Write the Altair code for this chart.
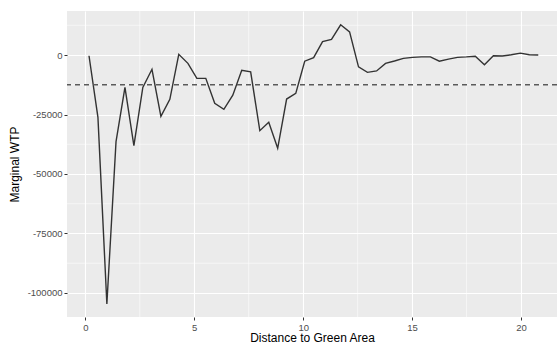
import altair as alt
import pandas as pd

# Distance to green area (x) and marginal WTP (y)
distance = [0.17, 0.58, 0.99, 1.41, 1.82, 2.23, 2.64, 3.06, 3.47, 3.88,
            4.29, 4.71, 5.12, 5.53, 5.94, 6.36, 6.77, 7.18, 7.59, 8.01,
            8.42, 8.83, 9.24, 9.66, 10.07, 10.48, 10.89, 11.30, 11.72, 12.13,
            12.54, 12.95, 13.37, 13.78, 14.19, 14.60, 15.02, 15.43, 15.84, 16.25,
            16.67, 17.08, 17.49, 17.90, 18.32, 18.73, 19.14, 19.55, 19.97, 20.38,
            20.79]
wtp = [-300, -26200, -104600, -36400, -13600, -38100, -13600, -6000, -25800, -18600,
       300, -3500, -9800, -9800, -20300, -22800, -16900, -6400, -7100, -31800,
       -28300, -39200, -18500, -16100, -2600, -1100, 5600, 6600, 12700, 9700,
       -5000, -7300, -6700, -3500, -2500, -1400, -1000, -800, -800, -2600,
       -1700, -1000, -800, -500, -4100, -300, -400, 100, 800, 100,
       0]
mean_wtp = [-12500]

x_ticks = [0, 5, 10, 15, 20]
y_ticks = [0, -25000, -50000, -75000, -100000]
x_minor = [2.5, 7.5, 12.5, 17.5]
y_minor = [12500, -12500, -37500, -62500, -87500]

df = pd.DataFrame({"d": distance, "w": wtp})
xscale = alt.Scale(domain=[-0.84, 21.65], nice=False, zero=False)
yscale = alt.Scale(domain=[-110100, 18500], nice=False, zero=False)
xaxis = alt.Axis(values=x_ticks, labelExpr="'' + datum.value")
yaxis = alt.Axis(values=y_ticks, labelExpr="'' + datum.value")
xtitle = "Distance to Green Area"
ytitle = "Marginal WTP"

line = alt.Chart(df).mark_line(color="#333333", strokeWidth=1.4).encode(
    x=alt.X("d:Q", scale=xscale, title=xtitle, axis=xaxis),
    y=alt.Y("w:Q", scale=yscale, title=ytitle, axis=yaxis),
)

minor_x = alt.Chart(pd.DataFrame({"d": x_minor})).mark_rule(
    color="white", strokeWidth=0.55
).encode(x=alt.X("d:Q", scale=xscale, title=xtitle, axis=xaxis))

minor_y = alt.Chart(pd.DataFrame({"w": y_minor})).mark_rule(
    color="white", strokeWidth=0.55
).encode(y=alt.Y("w:Q", scale=yscale, title=ytitle, axis=yaxis))

hline = alt.Chart(pd.DataFrame({"w": mean_wtp})).mark_rule(
    color="#5a5a5a", strokeWidth=1.5, strokeDash=[5, 4]
).encode(y=alt.Y("w:Q", scale=yscale, title=ytitle, axis=yaxis))

chart = alt.layer(minor_x, minor_y, line, hline).properties(
    width=490, height=306,
    padding={"left": 67, "top": 11, "right": 0, "bottom": 27},
    autosize=alt.AutoSizeParams(type="none"),
).configure_view(
    fill="#EBEBEB", stroke=None
).configure_axis(
    grid=True, gridColor="white", gridWidth=1.1,
    domain=False, tickColor="#333333", tickSize=3, tickWidth=1,
    labelColor="#4D4D4D", labelFont="Liberation Sans", labelFontSize=9.5,
    labelPadding=2,
    titleFont="Liberation Sans", titleFontSize=12, titleFontWeight="normal",
    titleColor="black",
).configure_axisX(titlePadding=1).configure_axisY(titlePadding=6)

chart.save("out.html", embed_options={"renderer": "svg", "actions": False})
